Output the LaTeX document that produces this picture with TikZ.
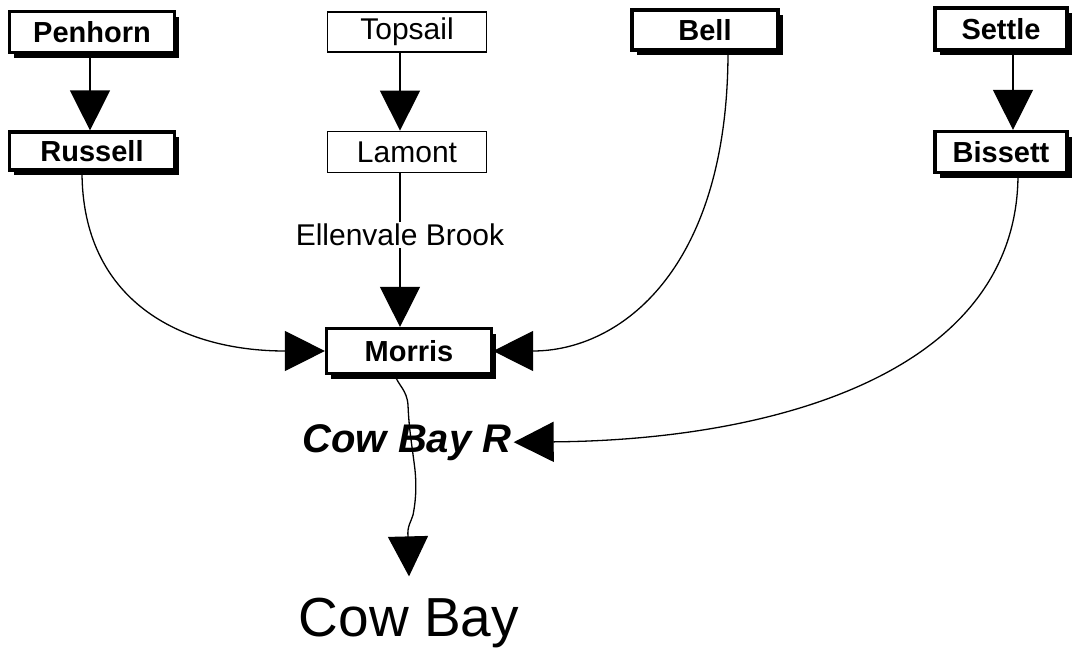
\documentclass[tikz,border=0pt]{standalone}
\usepackage{fontspec}
\setmainfont{Liberation Sans}
\usetikzlibrary{arrows.meta,shadows}
\begin{document}
\begin{tikzpicture}[x=1pt,y=-1pt,
  boldbox/.style={draw=black, line width=3.2pt, fill=white, inner sep=0pt,
    font=\fontsize{29}{32}\selectfont\bfseries,
    drop shadow={shadow xshift=4.5pt, shadow yshift=-5pt, fill=black, opacity=1}},
  thinbox/.style={draw=black, line width=1.8pt, fill=white, inner sep=0pt,
    font=\fontsize{30}{33}\selectfont},
  conn/.style={draw=black, line width=1.3pt,
    -{Triangle[width=40pt,length=40pt,fill=black]}}]
\useasboundingbox (0,0) rectangle (1076,648);
% boxes
\node[boldbox, minimum width=165pt, minimum height=41pt] (Penhorn) at (92,32) {Penhorn};
\node[thinbox, minimum width=159pt, minimum height=40pt] (Topsail) at (407,32) {Topsail};
\node[boldbox, minimum width=146pt, minimum height=40pt] (Bell) at (705,30) {Bell};
\node[boldbox, minimum width=132pt, minimum height=42pt] (Settle) at (1001,29) {Settle};
\node[boldbox, minimum width=165pt, minimum height=38pt] (Russell) at (92,151) {Russell};
\node[thinbox, minimum width=159pt, minimum height=41pt] (Lamont) at (407,152) {Lamont};
\node[boldbox, minimum width=132pt, minimum height=41pt] (Bissett) at (1001,152) {Bissett};
\node[boldbox, minimum width=165pt, minimum height=45pt] (Morris) at (409,351) {Morris};
% text nodes
\node[inner sep=0pt, anchor=base, font=\fontsize{40}{44}\selectfont\bfseries\itshape] (CowBayR) at (407,452) {Cow Bay R};
\node[inner sep=0pt, anchor=base, font=\fontsize{55}{60}\selectfont] (CowBay) at (409,636) {Cow Bay};
% vertical arrows
\draw[conn] ([xshift=-2pt]Penhorn.south) -- ([xshift=-2pt]Russell.north);
\draw[conn] ([xshift=-7pt]Topsail.south) -- ([xshift=-7pt]Lamont.north);
\draw[conn] ([xshift=12pt]Settle.south) -- ([xshift=12pt]Bissett.north);
\draw[conn] ([xshift=-7pt]Lamont.south) -- node[fill=white, inner sep=2pt, pos=0.4, font=\fontsize{30}{32}\selectfont] {Ellenvale Brook} ([xshift=-9pt]Morris.north);
% curves
\draw[conn] ([xshift=-10pt]Russell.south) .. controls (82,300) and (180,351) .. (Morris.west);
\draw[conn] ([xshift=23pt]Bell.south) .. controls (728,270) and (620,351) .. (Morris.east);
\draw[conn] ([xshift=17pt]Bissett.south) .. controls (1018,370) and (780,440) .. ([xshift=2pt]CowBayR.east);
% wiggly main river
\draw[conn] ([xshift=-14pt]Morris.south) .. controls (398,385) and (407,390) .. (408,405)
  .. controls (409,430) and (412,445) .. (415,470)
  .. controls (417,490) and (415,505) .. (413,515)
  .. controls (411,522) and (407,526) .. (408,537)
  -- ([yshift=21pt]CowBay.north);
\end{tikzpicture}
\end{document}
